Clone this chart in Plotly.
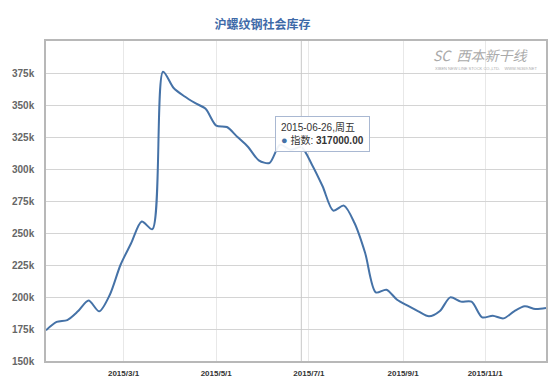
import numpy as np
import pandas as pd
import plotly.graph_objects as go

# Weekly dates (Fridays), National Day week missing
dates = [
    "2015-01-09", "2015-01-16", "2015-01-23", "2015-01-30", "2015-02-06", "2015-02-13",
    "2015-02-20", "2015-02-27", "2015-03-06", "2015-03-13", "2015-03-20", "2015-03-27",
    "2015-04-03", "2015-04-10", "2015-04-17", "2015-04-24", "2015-05-01", "2015-05-08",
    "2015-05-15", "2015-05-22", "2015-05-29", "2015-06-05", "2015-06-12", "2015-06-19",
    "2015-06-26", "2015-07-03", "2015-07-10", "2015-07-17", "2015-07-24", "2015-07-31",
    "2015-08-07", "2015-08-14", "2015-08-21", "2015-08-28", "2015-09-04", "2015-09-11",
    "2015-09-18", "2015-09-25", "2015-10-09", "2015-10-16", "2015-10-23", "2015-10-30",
    "2015-11-06", "2015-11-13", "2015-11-20", "2015-11-27", "2015-12-04", "2015-12-11",
]
values = [
    174000, 180500, 182000, 188800, 197300, 188800, 201800, 225000, 242000, 259000,
    253000, 376000, 363300, 356800, 351600, 347000, 333900, 332800, 325000, 317200,
    306800, 304700, 319000, 315000, 317000, 303400, 286500, 267500, 271400, 257800,
    234400, 203600, 205700, 197900, 193200, 188800, 184900, 188800, 199700, 196400,
    196400, 184100, 185400, 183300, 188800, 192700, 190600, 191400,
]
x_tick_dates = ["2015-03-01", "2015-05-01", "2015-07-01", "2015-09-01", "2015-11-01"]
x_tick_labels = ["2015/3/1", "2015/5/1", "2015/7/1", "2015/9/1", "2015/11/1"]
y_tick_vals = [150000, 175000, 200000, 225000, 250000, 275000, 300000, 325000, 350000, 375000]
y_tick_labels = ["150k", "175k", "200k", "225k", "250k", "275k", "300k", "325k", "350k", "375k"]

title_text = "沪螺纹钢社会库存"
tip_date = "2015-06-26,周五"
tip_name = "指数"

# ordinal axis: points equally spaced, ticks interpolated between points
d_ord = pd.to_datetime(dates).map(pd.Timestamp.toordinal).to_numpy(dtype=float)
idx = np.arange(len(dates), dtype=float)
tick_pos = np.interp(pd.to_datetime(x_tick_dates).map(pd.Timestamp.toordinal).to_numpy(dtype=float), d_ord, idx)
tip_i = dates.index("2015-06-26")
tip_v = values[tip_i]

line_color = "#4572A7"

fig = go.Figure()
fig.add_trace(go.Scatter(
    x=idx, y=values, mode="lines",
    line=dict(color=line_color, width=2, shape="spline", smoothing=0.8),
    hoverinfo="skip", showlegend=False,
))

# crosshair
fig.add_shape(type="line", xref="x", yref="paper", x0=tip_i, x1=tip_i, y0=0, y1=1,
              line=dict(color="#c8c8c8", width=1))

# tooltip
fig.add_annotation(
    xref="x", yref="y", x=tip_i + 2.0, y=tip_v + 10500,
    text=(f"{tip_date}<br>"
          f"<span style='color:{line_color};font-size:11px'>●</span> {tip_name}: <b>{tip_v:.2f}</b>"),
    showarrow=False, align="left",
    font=dict(family="Liberation Sans, Noto Sans CJK SC", size=10, color="#333"),
    bgcolor="rgba(255,255,255,0.92)", bordercolor="#a9b8d2", borderwidth=1, borderpad=5,
)

# watermark logo
fig.add_annotation(xref="paper", yref="paper", x=0.97, y=0.955, xanchor="right", yanchor="middle",
                   text="<i>SC  西本新干线</i>", showarrow=False,
                   font=dict(family="Noto Sans CJK SC", size=14, color="#aaaaaa"))
fig.add_annotation(xref="paper", yref="paper", x=0.985, y=0.915, xanchor="right", yanchor="middle",
                   text="XIBEN NEW LINE STOCK CO.,LTD.    WWW.96369.NET", showarrow=False,
                   font=dict(family="Liberation Sans", size=4, color="#aaaaaa"))

fig.update_layout(
    width=555, height=377,
    margin=dict(l=46, r=9, t=41, b=16),
    paper_bgcolor="white", plot_bgcolor="white",
    title=dict(text=f"<b>{title_text}</b>", x=0.473, xanchor="center", y=1 - 25 / 377, yanchor="middle",
               font=dict(family="Noto Sans CJK SC", size=12, color="#3e6aa8")),
    xaxis=dict(
        range=[0, len(dates) - 1], tickvals=tick_pos, ticktext=x_tick_labels,
        showgrid=True, gridcolor="#e8e8e8", gridwidth=1, zeroline=False,
        showline=True, linecolor="#b8b8b8", linewidth=1.5, mirror=True,
        ticks="", tickfont=dict(family="Liberation Sans", size=8, color="#333", weight="bold"),
        ticklabelstandoff=4, automargin=False,
    ),
    yaxis=dict(
        range=[150000, 400000], tickvals=y_tick_vals, ticktext=y_tick_labels,
        showgrid=True, gridcolor="#d4d4d4", gridwidth=1, zeroline=False,
        showline=True, linecolor="#b8b8b8", linewidth=1.5, mirror=True,
        ticks="", tickfont=dict(family="Liberation Sans", size=10, color="#666", weight="bold"),
        ticklabelstandoff=8, automargin=False,
    ),
)

fig.write_html("out.html", config={"displayModeBar": False},
               post_script="document.body.style.margin='0';document.body.style.overflow='hidden';")
